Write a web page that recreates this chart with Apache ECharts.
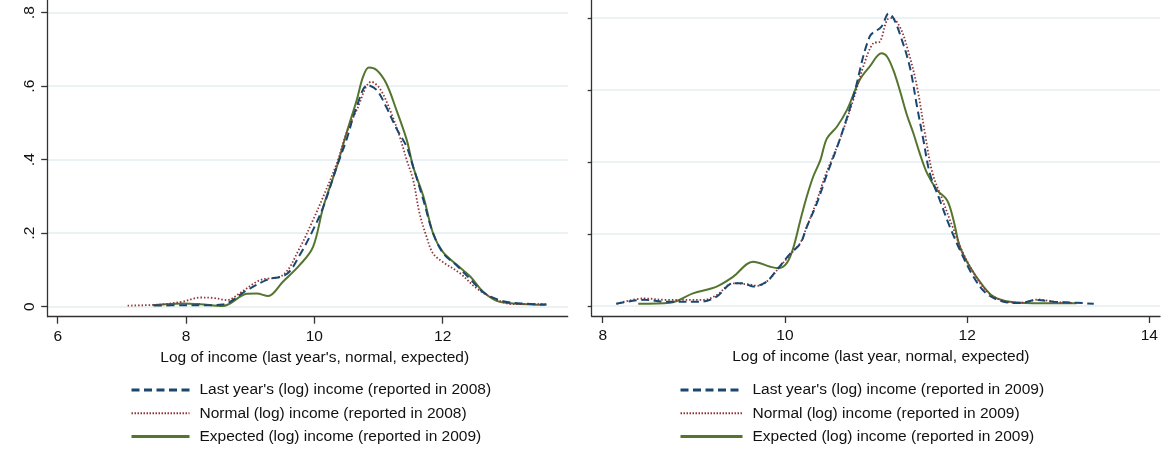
<!DOCTYPE html>
<html>
<head>
<meta charset="utf-8">
<script src="https://cdn.jsdelivr.net/npm/echarts@6/dist/echarts.min.js"></script>
<style>
html,body{margin:0;padding:0;background:#fff;}
#chart{width:1171px;height:453px;}
</style>
</head>
<body>
<div id="chart"></div>
<script>
// ---- Data ----
const yTicks = [0, 0.2, 0.4, 0.6, 0.8];
const xTicksLeft = [6, 8, 10, 12];
const xTicksRight = [8, 10, 12, 14];

const seriesNames2008 = [
  "Last year's (log) income (reported in 2008)",
  "Normal (log) income (reported in 2008)",
  "Expected (log) income (reported in 2009)"
];
const seriesNames2009 = [
  "Last year's (log) income (reported in 2009)",
  "Normal (log) income (reported in 2009)",
  "Expected (log) income (reported in 2009)"
];

// Left panel (2008)
const leftLastYear = [[7.5,0.003],[7.95,0.004],[8.3,0.004],[8.57,0.006],[8.95,0.045],[9.26,0.073],[9.57,0.089],[9.77,0.14],[9.98,0.209],[10.14,0.272],[10.35,0.381],[10.50,0.454],[10.66,0.544],[10.83,0.603],[10.97,0.59],[11.12,0.544],[11.28,0.485],[11.44,0.435],[11.54,0.381],[11.70,0.29],[11.85,0.2],[12.01,0.145],[12.22,0.112],[12.43,0.075],[12.66,0.036],[12.95,0.015],[13.3,0.008],[13.6,0.006]];
const leftNormal = [[7.09,0.003],[7.6,0.006],[7.95,0.014],[8.22,0.025],[8.42,0.024],[8.64,0.018],[8.84,0.037],[9.15,0.072],[9.51,0.086],[9.77,0.159],[9.98,0.236],[10.14,0.30],[10.35,0.39],[10.50,0.472],[10.66,0.535],[10.89,0.612],[11.02,0.594],[11.18,0.535],[11.33,0.463],[11.44,0.399],[11.54,0.345],[11.64,0.254],[11.75,0.19],[11.85,0.145],[12.0,0.122],[12.27,0.091],[12.53,0.05],[12.79,0.023],[13.1,0.007],[13.62,0.007]];
const leftExpected = [[7.48,0.004],[7.95,0.009],[8.22,0.007],[8.57,0.002],[8.95,0.035],[9.10,0.036],[9.28,0.029],[9.51,0.068],[9.77,0.113],[9.98,0.163],[10.14,0.272],[10.35,0.381],[10.50,0.472],[10.66,0.562],[10.76,0.626],[10.85,0.651],[10.97,0.644],[11.12,0.608],[11.28,0.535],[11.44,0.454],[11.54,0.381],[11.70,0.30],[11.85,0.2],[12.0,0.15],[12.22,0.114],[12.43,0.082],[12.63,0.041],[12.84,0.016],[13.10,0.009],[13.62,0.005]];

// Right panel (2009)
const rightLastYear = [[8.15,0.006],[8.45,0.017],[8.70,0.012],[9.07,0.012],[9.25,0.026],[9.43,0.063],[9.54,0.063],[9.65,0.054],[9.80,0.068],[9.91,0.10],[10.06,0.146],[10.17,0.174],[10.24,0.22],[10.35,0.285],[10.46,0.365],[10.60,0.461],[10.75,0.581],[10.93,0.748],[11.06,0.776],[11.14,0.813],[11.19,0.80],[11.26,0.757],[11.37,0.665],[11.45,0.554],[11.52,0.461],[11.59,0.369],[11.70,0.294],[11.81,0.22],[11.92,0.156],[12.07,0.081],[12.21,0.035],[12.40,0.012],[12.58,0.008],[12.76,0.017],[12.95,0.012],[13.20,0.009],[13.39,0.006]];
const rightNormal = [[8.15,0.006],[8.45,0.021],[8.70,0.017],[9.1,0.017],[9.25,0.03],[9.43,0.063],[9.6,0.06],[9.70,0.056],[9.82,0.072],[9.93,0.105],[10.07,0.146],[10.17,0.176],[10.24,0.22],[10.34,0.285],[10.44,0.36],[10.60,0.461],[10.75,0.572],[10.86,0.665],[10.97,0.73],[11.04,0.734],[11.12,0.794],[11.17,0.80],[11.26,0.776],[11.35,0.711],[11.45,0.609],[11.55,0.46],[11.62,0.369],[11.73,0.294],[11.84,0.22],[11.95,0.15],[12.1,0.08],[12.24,0.035],[12.43,0.012],[12.6,0.009],[12.78,0.018],[12.95,0.012],[13.15,0.008]];
const rightExpected = [[8.39,0.006],[8.74,0.009],[8.99,0.035],[9.25,0.054],[9.43,0.081],[9.65,0.123],[9.84,0.109],[9.93,0.105],[10.02,0.119],[10.09,0.16],[10.17,0.239],[10.24,0.304],[10.31,0.359],[10.39,0.406],[10.46,0.465],[10.57,0.498],[10.68,0.544],[10.82,0.628],[10.93,0.665],[11.06,0.702],[11.12,0.693],[11.19,0.655],[11.26,0.60],[11.34,0.53],[11.41,0.48],[11.48,0.424],[11.56,0.369],[11.67,0.322],[11.78,0.294],[11.85,0.239],[11.92,0.165],[12.03,0.109],[12.18,0.054],[12.29,0.026],[12.47,0.012],[12.84,0.0075],[13.20,0.0075]];

// ---- Styles ----
const FONT = "'Liberation Sans', Arial, sans-serif";
const FS = 15.5;
const AXIS_COLOR = '#333333';
const GRID_COLOR = '#eaf2f3';
const BLUE = '#1a476f', RED = '#90353b', GREEN = '#55752f';

function yLabel(v){ return v === 0 ? '0' : String(v).replace(/^0\./, '.'); }

function makeXAxis(gridIndex, min, max, ticks, name, padL){
  return {
    type: 'value', gridIndex, min, max,
    axisLine: {show: true, onZero: false, lineStyle: {color: AXIS_COLOR, width: 1.3}},
    axisTick: {show: true, length: 7, customValues: ticks, lineStyle: {color: AXIS_COLOR, width: 1.3}},
    axisLabel: {show: true, customValues: ticks, margin: 12, color: '#111', fontFamily: FONT, fontSize: FS},
    splitLine: {show: false},
    name, nameLocation: 'middle', nameGap: 29,
    nameTextStyle: {color: '#111', fontFamily: FONT, fontSize: FS, padding: [0,0,0,padL]}
  };
}
function makeYAxis(gridIndex, min, max, showLabels, tickLen){
  return {
    type: 'value', gridIndex, min, max,
    axisLine: {show: true, onZero: false, lineStyle: {color: AXIS_COLOR, width: 1.3}},
    axisTick: {show: true, length: tickLen, customValues: yTicks, lineStyle: {color: AXIS_COLOR, width: 1.3}},
    axisLabel: {show: showLabels, customValues: yTicks, rotate: 90, margin: 10, color: '#111', fontFamily: FONT, fontSize: FS, formatter: yLabel},
    splitLine: {show: true, lineStyle: {color: GRID_COLOR, width: 2}}
  };
}
function line(name, data, xi, color, type, width){
  return {
    name, type: 'line', xAxisIndex: xi, yAxisIndex: xi, data,
    smooth: 0.35, symbol: 'none', showSymbol: false,
    lineStyle: {color, type, width}, itemStyle: {color},
    z: type === 'solid' ? 3 : (type.length && type[0] < 3 ? 4 : 5)
  };
}
const DASH = [8, 4.5];
const DOT = [1.5, 2];

function legendFor(names, left, itemWidth){
  return {
    data: [
      {name: names[0], lineStyle: {width: 3, type: [8, 4.5]}},
      {name: names[1], lineStyle: {width: 2, type: [1.5, 1.5]}},
      {name: names[2], lineStyle: {width: 3}}
    ],
    orient: 'vertical', left, top: 382, padding: 0,
    itemWidth, itemHeight: 2, itemGap: 7.3,
    itemStyle: {opacity: 0},
    textStyle: {fontFamily: FONT, fontSize: FS, color: '#111', lineHeight: 16, padding: [0,0,0,5]}
  };
}

const rightNamesInternal = [seriesNames2009[0], seriesNames2009[1], seriesNames2009[2] + ' '];

const option = {
  animation: false,
  backgroundColor: '#ffffff',
  grid: [
    {left: 47.7, top: 0, width: 520, height: 316.7},
    {left: 591.7, top: 0, width: 568.3, height: 316}
  ],
  xAxis: [
    makeXAxis(0, 5.844, 13.949, xTicksLeft, 'Log of income (last year\'s, normal, expected)', 14),
    makeXAxis(1, 7.879, 14.117, xTicksRight, 'Log of income (last year, normal, expected)', 10)
  ],
  yAxis: [
    makeYAxis(0, -0.0272, 0.8346, true, 6.5),
    makeYAxis(1, -0.0278, 0.85, false, 4)
  ],
  legend: [
    legendFor(seriesNames2008, 130, 58),
    legendFor(rightNamesInternal, 679, 62)
  ],
  series: [
    line(seriesNames2008[0], leftLastYear, 0, BLUE, DASH, 2),
    line(seriesNames2008[1], leftNormal, 0, RED, DOT, 1.8),
    line(seriesNames2008[2], leftExpected, 0, GREEN, 'solid', 2),
    line(rightNamesInternal[0], rightLastYear, 1, BLUE, DASH, 2),
    line(rightNamesInternal[1], rightNormal, 1, RED, DOT, 1.8),
    line(rightNamesInternal[2], rightExpected, 1, GREEN, 'solid', 2)
  ]
};

const chart = echarts.init(document.getElementById('chart'), null, {renderer: 'canvas'});
chart.setOption(option);
</script>
</body>
</html>
